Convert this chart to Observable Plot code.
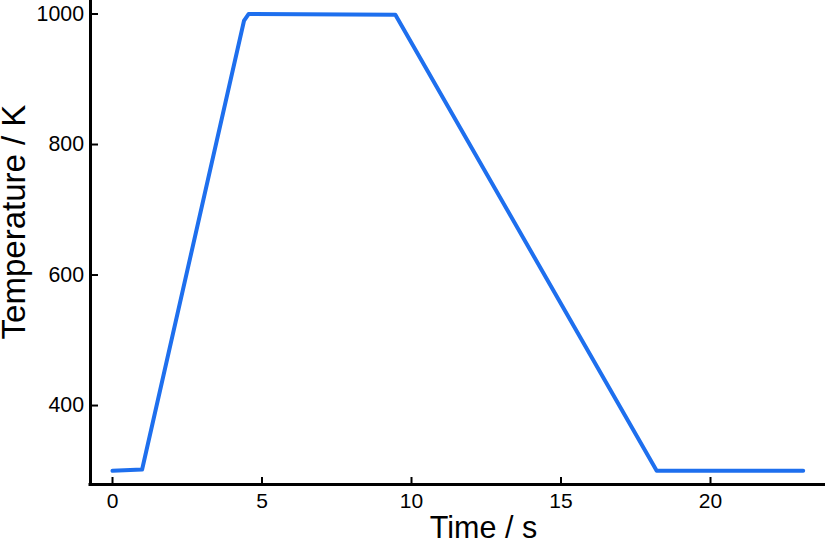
<!DOCTYPE html>
<html>
<head>
<meta charset="utf-8">
<script src="https://cdn.jsdelivr.net/npm/d3@7"></script>
<script src="https://cdn.jsdelivr.net/npm/@observablehq/plot@0.6"></script>
<style>
  html, body { margin: 0; padding: 0; background: #fff; }
  svg { display: block; }
</style>
</head>
<body>
<div id="chart"></div>
<script>
// Data
const time = [0, 0.99, 4.4, 4.55, 9.46, 18.2, 23.1];
const temperature = [300, 302, 990, 1000, 999, 300, 300];
const xTicks = [0, 5, 10, 15, 20];
const yTicks = [400, 600, 800, 1000];
const xDomain = [-0.736, 23.846];
const yDomain = [279, 1020.7];

const data = time.map((t, i) => ({t, T: temperature[i]}));

const W = 825, H = 541;
const mL = 90, mB = 57, mT = 0, mR = 0;
const plotH = H - mB - mT;
const plotW = W - mL - mR;
const font = "'Liberation Sans', Arial, Helvetica, sans-serif";

const chart = Plot.plot({
  width: W,
  height: H,
  marginLeft: mL,
  marginBottom: mB,
  marginTop: mT,
  marginRight: mR,
  style: {fontFamily: font, background: "#fff", color: "#000"},
  x: {domain: xDomain},
  y: {domain: yDomain},
  marks: [
    Plot.line(data, {x: "t", y: "T", stroke: "#1e6fee", strokeWidth: 4, strokeLinejoin: "round", strokeLinecap: "round"}),
    // axis lines
    Plot.ruleY([yDomain[0]], {stroke: "#000", strokeWidth: 3, strokeLinecap: "square"}),
    Plot.ruleX([xDomain[0]], {stroke: "#000", strokeWidth: 3, strokeLinecap: "square"}),
    // inward ticks
    Plot.tickX(xTicks, {x: d => d, stroke: "#000", strokeWidth: 2, insetTop: plotH - 7}),
    Plot.tickY(yTicks, {y: d => d, stroke: "#000", strokeWidth: 2, insetRight: plotW - 8}),
    // tick labels
    Plot.axisX(xTicks, {tickSize: 0, tickPadding: 9, tickFormat: "d", label: null, fontSize: 21}),
    Plot.axisY(yTicks, {tickSize: 0, tickPadding: 6.5, tickFormat: "d", label: null, fontSize: 21.3}),
    // axis titles
    Plot.text(["Time / s"], {frameAnchor: "bottom", textAnchor: "middle", lineAnchor: "middle", dx: 25.5, dy: 43.4, fontSize: 30.5, fill: "#000"}),
    Plot.text(["Temperature / K"], {frameAnchor: "left", textAnchor: "middle", lineAnchor: "middle", rotate: -90, dx: -76, dy: -20.5, fontSize: 33, fill: "#000"})
  ]
});

document.getElementById("chart").appendChild(chart);
</script>
</body>
</html>
